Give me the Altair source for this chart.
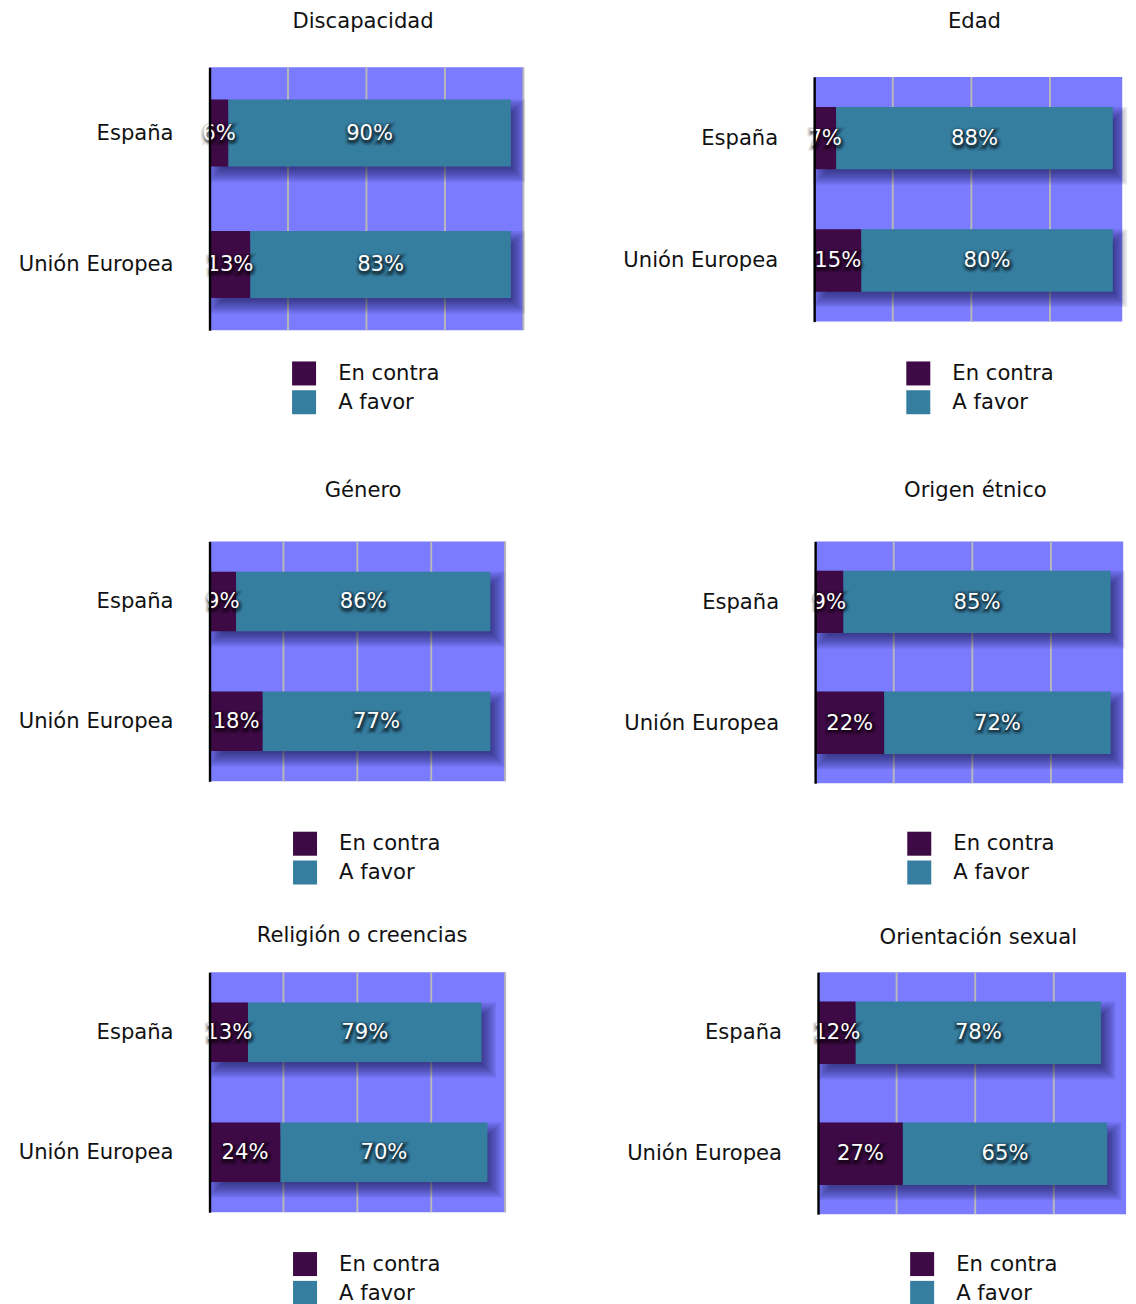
import altair as alt
import pandas as pd

panels = ["Discapacidad", "Edad", "Género", "Origen étnico",
          "Religión o creencias", "Orientación sexual"]
regions = ["España", "Unión Europea"]
stances = ["En contra", "A favor"]
en_contra = [[6, 13], [7, 15], [9, 18], [9, 22], [13, 24], [12, 27]]
a_favor = [[90, 83], [88, 80], [86, 77], [85, 72], [79, 70], [78, 65]]
grid_values = [25, 50, 75, 100]

colors = ["#3D0A45", "#367EA0"]
BG = "#7B7BFF"
FONT = "DejaVu Sans"
TXT = "#111111"
FS = 22

# per panel layout: plot width, plot height, bar height, x max, top pad,
# title distance above plot, title centre x, legend x, legend y (from plot top)
layout = [
    (327, 274, 70, 100, 0, 48, 160, 86, 306.5),
    (321, 255, 65, 98, 10, 58, 167, 96, 296.5),
    (308, 250, 62, 100, 0, 53, 160, 87, 302.5),
    (321, 252, 65, 98, 0, 53, 167, 96, 302.5),
    (308, 250, 62, 100, 0, 39, 159, 87, 291.5),
    (321, 252, 65, 98, 0, 37, 167, 96, 291.5),
]


def panel(i):
    name = panels[i]
    W, H, bh, xmax, tp, td, tx, lx, ly = layout[i]
    rows = []
    for j, r in enumerate(regions):
        c, f = en_contra[i][j], a_favor[i][j]
        rows.append(dict(region=r, stance=stances[0], start=0, end=c, mid=c / 2, label=f"{c}%"))
        rows.append(dict(region=r, stance=stances[1], start=c, end=c + f, mid=c + f / 2, label=f"{f}%"))
    df = pd.DataFrame(rows)
    tot = pd.DataFrame(dict(region=regions, start=[0, 0],
                            end=[en_contra[i][j] + a_favor[i][j] for j in range(2)]))
    gdf = pd.DataFrame(dict(v=[v for v in grid_values if v <= xmax]))
    tdf = pd.DataFrame(dict(t=[name]))

    xs = alt.Scale(domain=[0, xmax], nice=False, zero=True)
    ys = alt.Scale(domain=regions, range=[tp, tp + H], paddingInner=0, paddingOuter=0)
    yax = alt.Axis(title=None, ticks=False, labelPadding=38, labelFontSize=FS,
                   labelColor=TXT, labelFont=FONT, domainColor="#000000",
                   domainWidth=2.5, minExtent=200, maxExtent=200, zindex=1, grid=False)
    X = lambda f: alt.X(f, scale=xs, axis=None)
    Y = alt.Y("region:N", scale=ys, axis=yax, sort=regions)

    layers = [
        alt.Chart(tdf).mark_rect(color=BG).encode(
            x=alt.value(0), x2=alt.value(W), y=alt.value(tp), y2=alt.value(tp + H)),
        alt.Chart(gdf).mark_rule(color="#B8B8B8", strokeWidth=2).encode(
            x=X("v:Q"), y=alt.value(tp), y2=alt.value(tp + H)),
    ]
    # soft drop shadow under the bars
    for s in range(-8, 10, 2):
        layers.append(
            alt.Chart(tot).mark_bar(height=bh + 2 * s, xOffset=7 - s, x2Offset=7 + s,
                                    yOffset=8, color="#0E0E3A", opacity=0.09)
            .encode(x=X("start:Q"), x2="end:Q", y=Y)
        )
    layers.append(
        alt.Chart(df).mark_bar(height=bh).encode(
            x=X("start:Q"), x2="end:Q", y=Y,
            color=alt.Color("stance:N", scale=alt.Scale(domain=stances, range=colors),
                            legend=alt.Legend(orient="none", legendX=lx, legendY=ly + tp,
                                              title=None, symbolType="square",
                                              symbolSize=625, symbolStrokeWidth=0,
                                              symbolOpacity=1,
                                              labelFontSize=FS, labelFont=FONT,
                                              labelColor=TXT, rowPadding=5,
                                              labelOffset=23, padding=0,
                                              direction="vertical")),
        )
    )
    # text shadow + white labels
    for sw, op in [(8, 0.10), (5, 0.16), (2.5, 0.3)]:
        layers.append(
            alt.Chart(df).mark_text(font=FONT, fontSize=FS, color="#000000", stroke="#000000",
                                    strokeWidth=sw, opacity=op, dx=1, dy=2)
            .encode(x=X("mid:Q"), y=Y, text="label:N"))
    layers.append(
        alt.Chart(df).mark_text(font=FONT, fontSize=FS, color="#FFFFFF")
        .encode(x=X("mid:Q"), y=Y, text="label:N"))
    # panel title
    layers.append(
        alt.Chart(tdf).mark_text(font=FONT, fontSize=FS, color=TXT, align="center",
                                 baseline="middle")
        .encode(x=alt.value(tx), y=alt.value(tp - td), text="t:N"))
    return alt.layer(*layers).properties(width=W, height=tp + H)


def row(a, b, sp):
    return alt.hconcat(panel(a), panel(b), spacing=sp).resolve_scale(color="independent")


chart = (
    alt.vconcat(
        row(0, 1, 101),
        alt.vconcat(row(2, 3, 122), row(4, 5, 125), spacing=41).resolve_scale(color="independent"),
        spacing=68,
    )
    .resolve_scale(color="independent")
    .properties(padding={"left": 10, "top": -25, "right": 0, "bottom": 0})
    .configure_view(stroke=None)
)

chart.save("out.html", embed_options={"renderer": "svg", "actions": False})
